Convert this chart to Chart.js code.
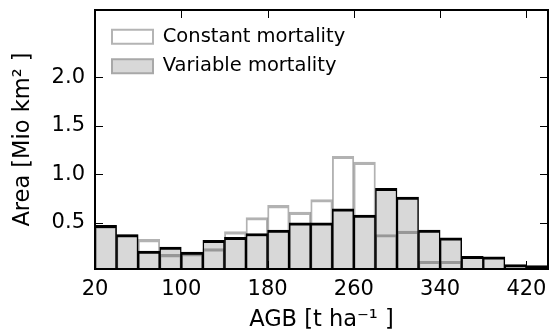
<!DOCTYPE html>
<html><head><meta charset="utf-8">
<script src="https://cdn.jsdelivr.net/npm/chart.js@4"></script>
<style>html,body{margin:0;padding:0;background:#fff}#wrap{width:550px;height:336px}</style>
</head><body><div id="wrap"><canvas id="c" width="550" height="336"></canvas></div>
<script>
// ---- data ----
const binStarts = [20, 40, 60, 80, 100, 120, 140, 160, 180, 200, 220, 240, 260, 280, 300, 320, 340, 360, 380, 400, 420];
const binWidth = 20;
const constantMortality = [0.47, 0.38, 0.33, 0.175, 0.185, 0.235, 0.41, 0.555, 0.68, 0.61, 0.74, 1.185, 1.125, 0.38, 0.415, 0.105, 0.105, 0, 0, 0, 0];
const variableMortality = [0.475, 0.38, 0.21, 0.25, 0.2, 0.32, 0.35, 0.39, 0.425, 0.5, 0.5, 0.645, 0.58, 0.855, 0.765, 0.425, 0.345, 0.155, 0.15, 0.07, 0.06];
const xTickValues = [20, 100, 180, 260, 340, 420];
const yTickValues = [0.5, 1.0, 1.5, 2.0];
const seriesNames = ['Constant mortality', 'Variable mortality'];
const xTitle = 'AGB [t ha\u207B\u00B9 ]';
const yTitle = 'Area [Mio km\u00B2 ]';

Chart.defaults.font.family = "'DejaVu Sans', sans-serif";
Chart.defaults.color = '#000';

const frame = {
  id: 'frame',
  afterLayout(chart) {
    const lg = chart.legend;
    if (lg) { lg.left = chart.chartArea.left + 7; lg.top = chart.chartArea.top + 7; }
  },
  afterDraw(chart) {
    const {ctx, chartArea: {left, right, top, bottom}, scales: {x, y}} = chart;
    const L = 8;
    ctx.save();
    ctx.strokeStyle = '#000';
    ctx.lineWidth = 1;
    ctx.beginPath();
    xTickValues.forEach(v => {
      const p = Math.round(x.getPixelForValue(v)) + 0.5;
      ctx.moveTo(p, bottom); ctx.lineTo(p, bottom - L);
      ctx.moveTo(p, top); ctx.lineTo(p, top + L);
    });
    yTickValues.forEach(v => {
      const p = Math.round(y.getPixelForValue(v)) + 0.5;
      ctx.moveTo(left, p); ctx.lineTo(left + L, p);
      ctx.moveTo(right, p); ctx.lineTo(right - L, p);
    });
    ctx.stroke();
    ctx.lineWidth = 2;
    ctx.strokeRect(left, top, right - left, bottom - top);
    ctx.restore();
  }
};

const noPad = s => { s.paddingTop = 0; s.paddingBottom = 0; s.paddingLeft = 0; s.paddingRight = 0; };

new Chart(document.getElementById('c'), {
  type: 'bar',
  data: {
    datasets: [
      {
        label: seriesNames[0],
        data: binStarts.map((s, i) => ({x: s + binWidth / 2, y: constantMortality[i]})),
        backgroundColor: 'rgba(0,0,0,0)',
        borderColor: 'rgba(0,0,0,0.3)',
        borderWidth: {top: 2.5, left: 1.25, right: 1.25, bottom: 0},
        borderSkipped: false
      },
      {
        label: seriesNames[1],
        data: binStarts.map((s, i) => ({x: s + binWidth / 2, y: variableMortality[i]})),
        backgroundColor: '#d8d8d8',
        borderColor: '#000',
        borderWidth: {top: 3, left: 1.5, right: 1.5, bottom: 0},
        borderSkipped: false
      }
    ]
  },
  options: {
    responsive: false,
    devicePixelRatio: 1,
    animation: false,
    grouped: false,
    barPercentage: 1,
    categoryPercentage: 1,
    layout: {padding: {top: 10, right: 2, left: 0, bottom: 0}},
    plugins: {
      tooltip: {enabled: false},
      legend: {
        position: 'chartArea',
        align: 'start',
        labels: {
          boxWidth: 41, boxHeight: 14, padding: 10,
          font: {size: 19.5}, color: '#000',
          generateLabels: () => [
            {text: seriesNames[0], fillStyle: '#ffffff', strokeStyle: '#b4b4b4', lineWidth: 2, datasetIndex: 0, hidden: false},
            {text: seriesNames[1], fillStyle: '#d8d8d8', strokeStyle: '#a8a8a8', lineWidth: 2, datasetIndex: 1, hidden: false}
          ]
        }
      }
    },
    scales: {
      x: {
        type: 'linear', min: 20, max: 440, offset: false,
        grid: {display: false, drawTicks: false},
        border: {display: false},
        ticks: {padding: 8, font: {size: 21}, color: '#000', maxRotation: 0, autoSkip: false},
        afterBuildTicks: a => { a.ticks = xTickValues.map(v => ({value: v})); },
        title: {display: true, text: xTitle, font: {size: 22.5}, color: '#000', padding: {top: 0, bottom: 2}},
        afterFit: s => { noPad(s); s.height = 67; }
      },
      y: {
        min: 0.025, max: 2.69,
        grid: {display: false, drawTicks: false},
        border: {display: false},
        ticks: {padding: 10, font: {size: 21}, color: '#000', callback: v => v.toFixed(1)},
        afterBuildTicks: a => { a.ticks = yTickValues.map(v => ({value: v})); },
        title: {display: true, text: yTitle, font: {size: 22.5}, color: '#000', padding: {top: 10, bottom: 0}},
        afterFit: s => { noPad(s); s.width = 95; }
      }
    }
  },
  plugins: [frame]
});
</script>
</body></html>
